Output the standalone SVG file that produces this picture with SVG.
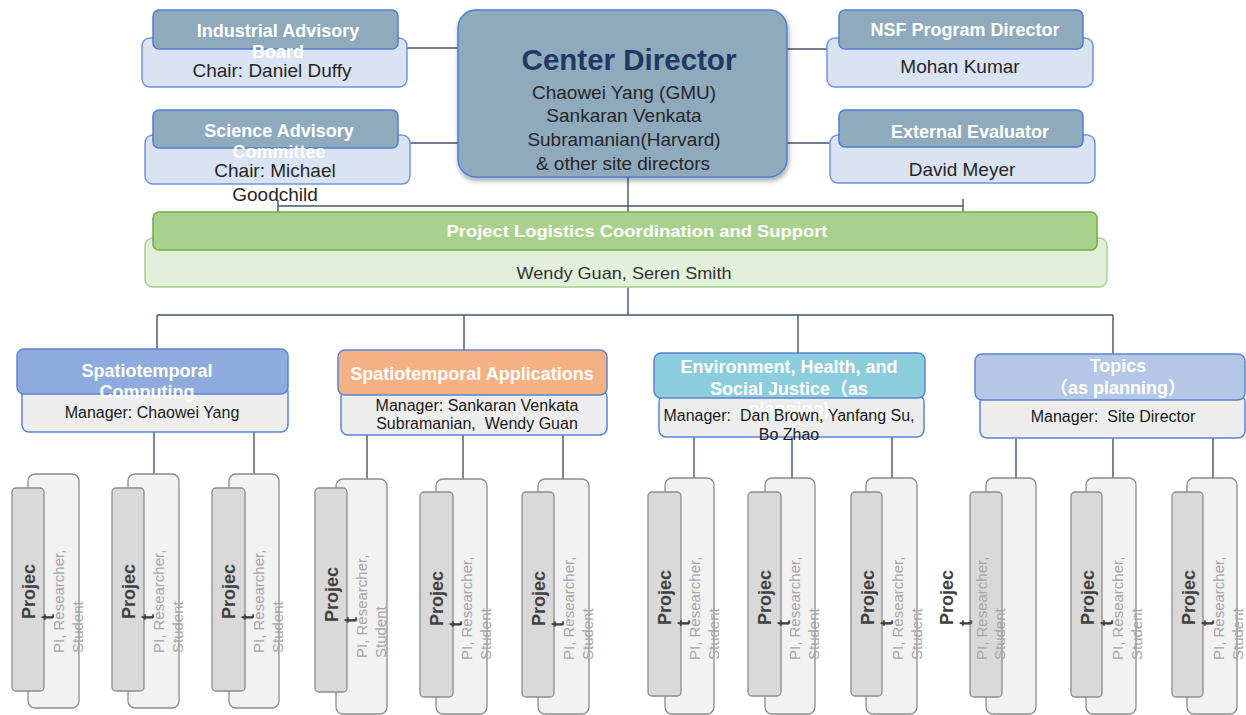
<svg xmlns="http://www.w3.org/2000/svg" width="1246" height="715" viewBox="0 0 1246 715">
<style>
text{font-family:"Liberation Sans",Arial,"Noto Sans CJK SC",sans-serif;white-space:pre}
.hdr{fill:#8faabd;stroke:#4f7ed2;stroke-width:1.5}
.low{fill:#dae3f3;stroke:#6f94e0;stroke-width:1.5}
.ht{fill:#fff;font-weight:bold;font-size:18px;text-anchor:middle}
.lt{fill:#262626;font-size:19px;text-anchor:middle}
.cl{fill:#262626;font-size:19px;text-anchor:middle}
.con{stroke:#44546a;stroke-width:1.4;fill:none}
.clow{fill:#ededed;stroke:#5b84d6;stroke-width:1.5}
.ch{stroke:#5b84d6;stroke-width:1.5}
.mt{fill:#1a1a1a;font-size:16px;text-anchor:middle}
.pb{fill:#f2f2f2;stroke:#8c8c8c;stroke-width:1.3}
.pf{fill:#d9d9d9;stroke:#8c8c8c;stroke-width:1.3}
.pj{fill:#404040;font-weight:bold;font-size:18px}
.pr{fill:#a6a6a6;font-size:15px}
</style>
<defs>
<filter id="sh" x="-10%" y="-10%" width="120%" height="130%">
<feDropShadow dx="1" dy="3" stdDeviation="2.5" flood-color="#000" flood-opacity="0.35"/>
</filter>
</defs>
<rect width="1246" height="715" fill="#fff"/>
<g id="connectors" class="con">
<line x1="407" y1="48" x2="458" y2="48"/>
<line x1="410" y1="143" x2="458" y2="143"/>
<line x1="787" y1="49" x2="827" y2="49"/>
<line x1="787" y1="143" x2="830" y2="143"/>
<line x1="628" y1="177" x2="628" y2="212"/>
<line x1="278" y1="206" x2="963" y2="206"/>
<line x1="278" y1="200" x2="278" y2="212"/>
<line x1="963" y1="199" x2="963" y2="212"/>
<line x1="628" y1="287" x2="628" y2="315"/>
<line x1="157" y1="315" x2="1113" y2="315"/>
<line x1="157" y1="315" x2="157" y2="349"/>
<line x1="464" y1="315" x2="464" y2="350"/>
<line x1="798" y1="315" x2="798" y2="353"/>
<line x1="1113" y1="315" x2="1113" y2="354"/>
<line x1="154" y1="432" x2="154" y2="474"/>
<line x1="254" y1="432" x2="254" y2="474"/>
<line x1="367" y1="435" x2="367" y2="479"/>
<line x1="463" y1="435" x2="463" y2="479"/>
<line x1="563" y1="435" x2="563" y2="479"/>
<line x1="694" y1="437" x2="694" y2="478"/>
<line x1="792" y1="437" x2="792" y2="478"/>
<line x1="892" y1="437" x2="892" y2="478"/>
<line x1="1016" y1="438" x2="1016" y2="478"/>
<line x1="1113" y1="438" x2="1113" y2="478"/>
<line x1="1213" y1="438" x2="1213" y2="478"/>
</g>
<g id="industrial-advisory-board">
<rect class="low" x="142" y="38" width="265" height="49" rx="8"/>
<rect class="hdr" x="153" y="10" width="245" height="39" rx="6"/>
<text class="ht" x="278" y="37">Industrial Advisory</text>
<text class="ht" x="278" y="58">Board</text>
<text class="lt" x="272" y="77">Chair: Daniel Duffy</text>
</g>
<g id="science-advisory-committee">
<rect class="low" x="145" y="135" width="265" height="49" rx="8"/>
<rect class="hdr" x="153" y="110" width="245" height="38" rx="6"/>
<text class="ht" x="279" y="137">Science Advisory</text>
<text class="ht" x="279" y="158">Committee</text>
<text class="lt" x="275" y="177">Chair: Michael</text>
<text class="lt" x="275" y="201">Goodchild</text>
</g>
<g id="center-director">
<rect x="458" y="10" width="329" height="167" rx="18" fill="#8faabd" stroke="#4f7ed2" stroke-width="1.5" filter="url(#sh)"/>
<text x="629" y="70" fill="#1f3864" font-weight="bold" font-size="29.5" text-anchor="middle">Center Director</text>
<text class="cl" x="624" y="99">Chaowei Yang (GMU)</text>
<text class="cl" x="624" y="122">Sankaran Venkata</text>
<text class="cl" x="624" y="146">Subramanian(Harvard)</text>
<text class="cl" x="623" y="170">&amp; other site directors</text>
</g>
<g id="nsf-program-director">
<rect class="low" x="827" y="38" width="266" height="49" rx="8"/>
<rect class="hdr" x="839" y="10" width="244" height="39" rx="6"/>
<text class="ht" x="965" y="36">NSF Program Director</text>
<text class="lt" x="960" y="73">Mohan Kumar</text>
</g>
<g id="external-evaluator">
<rect class="low" x="830" y="135" width="265" height="48" rx="8"/>
<rect class="hdr" x="839" y="110" width="244" height="37" rx="6"/>
<text class="ht" x="970" y="138">External Evaluator</text>
<text class="lt" x="962" y="176">David Meyer</text>
</g>
<g id="project-logistics">
<rect x="145" y="238" width="962" height="49" rx="8" fill="#e2efda" stroke="#a9d18e" stroke-width="1.5"/>
<rect x="153" y="212" width="944" height="38" rx="6" fill="#a9d18e" stroke="#70ad47" stroke-width="1.5"/>
<text x="637" y="237" fill="#fff" font-weight="bold" font-size="17" text-anchor="middle" textLength="381" lengthAdjust="spacingAndGlyphs">Project Logistics Coordination and Support</text>
<text x="624" y="279" fill="#333" font-size="17" text-anchor="middle" textLength="215" lengthAdjust="spacingAndGlyphs">Wendy Guan, Seren Smith</text>
</g>
<g id="spatiotemporal-computing">
<rect class="clow" x="22" y="385" width="266" height="47" rx="7"/>
<rect class="ch" x="17" y="349" width="271" height="45" rx="7" fill="#8faadc"/>
<text class="ht" x="147" y="377">Spatiotemporal</text>
<text class="ht" x="147" y="398">Computing</text>
<text class="mt" x="152" y="418">Manager: Chaowei Yang</text>
</g>
<g id="spatiotemporal-applications">
<rect class="clow" x="341" y="390" width="266" height="45" rx="7"/>
<rect class="ch" x="338" y="350" width="269" height="45" rx="7" fill="#f4b183"/>
<text class="ht" x="472" y="380">Spatiotemporal Applications</text>
<text class="mt" x="477" y="411">Manager: Sankaran Venkata</text>
<text class="mt" x="477" y="429">Subramanian,  Wendy Guan</text>
</g>
<g id="environment-health">
<rect class="clow" x="659" y="395" width="265" height="42" rx="7"/>
<rect class="ch" x="654" y="353" width="271" height="45" rx="7" fill="#8ccddd"/>
<text class="ht" x="789" y="373">Environment, Health, and</text>
<text class="ht" x="789" y="395">Social Justice（as</text>
<text class="ht" x="789" y="415" fill-opacity="0.8">planning)</text>
<text class="mt" x="789" y="421" font-size="16.5">Manager:  Dan Brown, Yanfang Su,</text>
<text class="mt" x="789" y="440" font-size="16.5">Bo Zhao</text>
</g>
<g id="topics">
<rect class="clow" x="980" y="395" width="265" height="43" rx="7"/>
<rect class="ch" x="975" y="354" width="270" height="46" rx="7" fill="#b4c7e7"/>
<text class="ht" x="1118" y="372">Topics</text>
<text class="ht" x="1118" y="394">（as planning）</text>
<text class="mt" x="1113" y="422">Manager:  Site Director</text>
</g>
<g id="project-1">
<rect class="pb" x="28" y="474" width="51" height="234" rx="7"/>
<rect class="pf" x="12" y="488" width="32" height="203" rx="4"/>
<text class="pj" transform="translate(35,619) rotate(-90)">Projec</text>
<text class="pj" transform="translate(54,620) rotate(-90)">t</text>
<text class="pr" transform="translate(64,653) rotate(-90)">PI, Researcher,</text>
<text class="pr" transform="translate(83,653) rotate(-90)">Student</text>
</g>
<g id="project-2">
<rect class="pb" x="128" y="474" width="51" height="234" rx="7"/>
<rect class="pf" x="112" y="488" width="32" height="203" rx="4"/>
<text class="pj" transform="translate(135,619) rotate(-90)">Projec</text>
<text class="pj" transform="translate(154,620) rotate(-90)">t</text>
<text class="pr" transform="translate(164,653) rotate(-90)">PI, Researcher,</text>
<text class="pr" transform="translate(183,653) rotate(-90)">Student</text>
</g>
<g id="project-3">
<rect class="pb" x="229" y="474" width="50" height="234" rx="7"/>
<rect class="pf" x="212" y="488" width="33" height="203" rx="4"/>
<text class="pj" transform="translate(235,619) rotate(-90)">Projec</text>
<text class="pj" transform="translate(254,620) rotate(-90)">t</text>
<text class="pr" transform="translate(264,653) rotate(-90)">PI, Researcher,</text>
<text class="pr" transform="translate(283,653) rotate(-90)">Student</text>
</g>
<g id="project-4">
<rect class="pb" x="336" y="479" width="51" height="235" rx="7"/>
<rect class="pf" x="315" y="488" width="32" height="204" rx="4"/>
<text class="pj" transform="translate(338,622) rotate(-90)">Projec</text>
<text class="pj" transform="translate(357,623) rotate(-90)">t</text>
<text class="pr" transform="translate(367,658) rotate(-90)">PI, Researcher,</text>
<text class="pr" transform="translate(386,658) rotate(-90)">Student</text>
</g>
<g id="project-5">
<rect class="pb" x="436" y="479" width="51" height="235" rx="7"/>
<rect class="pf" x="420" y="492" width="33" height="205" rx="4"/>
<text class="pj" transform="translate(443,626) rotate(-90)">Projec</text>
<text class="pj" transform="translate(462,627) rotate(-90)">t</text>
<text class="pr" transform="translate(472,660) rotate(-90)">PI, Researcher,</text>
<text class="pr" transform="translate(491,660) rotate(-90)">Student</text>
</g>
<g id="project-6">
<rect class="pb" x="538" y="479" width="51" height="235" rx="7"/>
<rect class="pf" x="522" y="492" width="32" height="205" rx="4"/>
<text class="pj" transform="translate(545,626) rotate(-90)">Projec</text>
<text class="pj" transform="translate(564,627) rotate(-90)">t</text>
<text class="pr" transform="translate(574,660) rotate(-90)">PI, Researcher,</text>
<text class="pr" transform="translate(593,660) rotate(-90)">Student</text>
</g>
<g id="project-7">
<rect class="pb" x="665" y="478" width="49" height="236" rx="7"/>
<rect class="pf" x="648" y="492" width="33" height="204" rx="4"/>
<text class="pj" transform="translate(671,625) rotate(-90)">Projec</text>
<text class="pj" transform="translate(690,626) rotate(-90)">t</text>
<text class="pr" transform="translate(700,660) rotate(-90)">PI, Researcher,</text>
<text class="pr" transform="translate(719,660) rotate(-90)">Student</text>
</g>
<g id="project-8">
<rect class="pb" x="765" y="478" width="50" height="236" rx="7"/>
<rect class="pf" x="748" y="492" width="33" height="204" rx="4"/>
<text class="pj" transform="translate(771,625) rotate(-90)">Projec</text>
<text class="pj" transform="translate(790,626) rotate(-90)">t</text>
<text class="pr" transform="translate(800,660) rotate(-90)">PI, Researcher,</text>
<text class="pr" transform="translate(819,660) rotate(-90)">Student</text>
</g>
<g id="project-9">
<rect class="pb" x="866" y="478" width="51" height="236" rx="7"/>
<rect class="pf" x="851" y="492" width="31" height="204" rx="4"/>
<text class="pj" transform="translate(874,625) rotate(-90)">Projec</text>
<text class="pj" transform="translate(893,626) rotate(-90)">t</text>
<text class="pr" transform="translate(903,660) rotate(-90)">PI, Researcher,</text>
<text class="pr" transform="translate(922,660) rotate(-90)">Student</text>
</g>
<g id="project-10">
<rect class="pb" x="986" y="478" width="50" height="236" rx="7"/>
<rect class="pf" x="970" y="492" width="32" height="205" rx="4"/>
<text class="pj" transform="translate(953,625) rotate(-90)">Projec</text>
<text class="pj" transform="translate(972,626) rotate(-90)">t</text>
<text class="pr" transform="translate(987,660) rotate(-90)">PI, Researcher,</text>
<text class="pr" transform="translate(1005,660) rotate(-90)">Student</text>
</g>
<g id="project-11">
<rect class="pb" x="1086" y="478" width="50" height="236" rx="7"/>
<rect class="pf" x="1071" y="492" width="31" height="205" rx="4"/>
<text class="pj" transform="translate(1094,625) rotate(-90)">Projec</text>
<text class="pj" transform="translate(1113,626) rotate(-90)">t</text>
<text class="pr" transform="translate(1123,660) rotate(-90)">PI, Researcher,</text>
<text class="pr" transform="translate(1142,660) rotate(-90)">Student</text>
</g>
<g id="project-12">
<rect class="pb" x="1187" y="478" width="50" height="236" rx="7"/>
<rect class="pf" x="1172" y="492" width="31" height="205" rx="4"/>
<text class="pj" transform="translate(1195,625) rotate(-90)">Projec</text>
<text class="pj" transform="translate(1214,626) rotate(-90)">t</text>
<text class="pr" transform="translate(1224,660) rotate(-90)">PI, Researcher,</text>
<text class="pr" transform="translate(1243,660) rotate(-90)">Student</text>
</g>
</svg>
